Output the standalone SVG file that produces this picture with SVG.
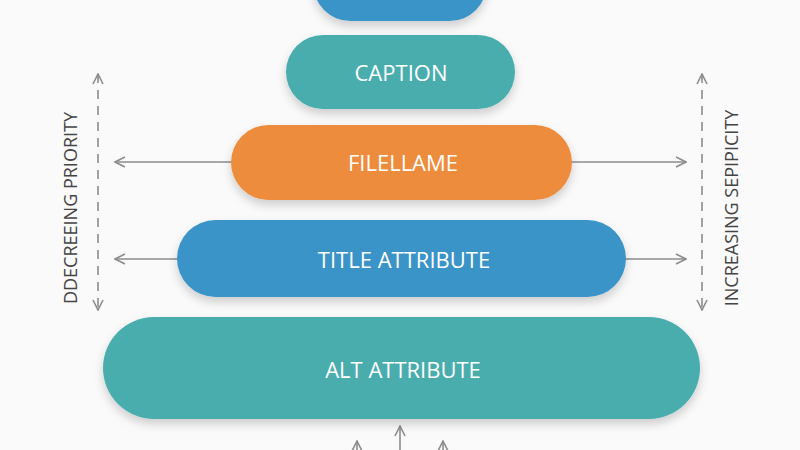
<svg xmlns="http://www.w3.org/2000/svg" width="800" height="450" viewBox="0 0 800 450">
<style>
.lbl{font-family:"Open Sans","Noto Sans","Liberation Sans",sans-serif;font-size:22px;fill:#ffffff;text-anchor:middle;dominant-baseline:central}
.side{font-family:"Open Sans","Noto Sans","Liberation Sans",sans-serif;font-size:18px;fill:#444;text-anchor:middle;dominant-baseline:central}
.blue{fill:#3b94c7}
.teal{fill:#48adae}
.orange{fill:#ee8c3c}
.ln{stroke:#8c8c8c;stroke-width:1.6;fill:none}
.dash{stroke:#8c8c8c;stroke-width:1.6;fill:none;stroke-dasharray:9 7}
</style>
<defs>
<filter id="sh" x="-20%" y="-40%" width="140%" height="190%">
<feDropShadow dx="0" dy="5" stdDeviation="5" flood-color="#000" flood-opacity="0.18"/>
</filter>
<marker id="ah" viewBox="0 0 12 12" refX="11" refY="6" markerWidth="12" markerHeight="12" markerUnits="userSpaceOnUse" orient="auto-start-reverse">
<path d="M1,1 L11,6 L1,11" fill="none" stroke="#8c8c8c" stroke-width="1.6"/>
</marker>
</defs>
<rect width="800" height="450" fill="#fafafa"/>
<g id="connectors">
<line class="dash" x1="98" y1="74" x2="98" y2="310" marker-start="url(#ah)" marker-end="url(#ah)"/>
<line class="dash" x1="702" y1="74" x2="702" y2="310" marker-start="url(#ah)" marker-end="url(#ah)"/>
<line class="ln" x1="232" y1="162" x2="115" y2="162" marker-end="url(#ah)"/>
<line class="ln" x1="178" y1="259" x2="115" y2="259" marker-end="url(#ah)"/>
<line class="ln" x1="571" y1="162" x2="686" y2="162" marker-end="url(#ah)"/>
<line class="ln" x1="625" y1="259" x2="686" y2="259" marker-end="url(#ah)"/>
<line class="ln" x1="400" y1="450" x2="400" y2="426" marker-end="url(#ah)"/>
<line class="ln" x1="357" y1="455" x2="357" y2="441" marker-end="url(#ah)"/>
<line class="ln" x1="443" y1="455" x2="443" y2="441" marker-end="url(#ah)"/>
</g>
<g id="node-top"><rect class="blue" x="313" y="-54" width="174" height="75" rx="37.5" filter="url(#sh)"/></g>
<g id="node-caption"><rect class="teal" x="286" y="35" width="229" height="74" rx="37" filter="url(#sh)"/><text class="lbl" x="401" y="72">CAPTION</text></g>
<g id="node-filename"><rect class="orange" x="231" y="125" width="341" height="75" rx="37.5" filter="url(#sh)"/><text class="lbl" x="403" y="162">FILELLAME</text></g>
<g id="node-title"><rect class="blue" x="177" y="220" width="449" height="77" rx="38.5" filter="url(#sh)"/><text class="lbl" x="404" y="259">TITLE ATTRIBUTE</text></g>
<g id="node-alt"><rect class="teal" x="103" y="317" width="597" height="102" rx="51" filter="url(#sh)"/><text class="lbl" x="403" y="369">ALT ATTRIBUTE</text></g>
<g id="label-left"><text class="side" transform="translate(70,208) rotate(-90)">DDECREEING PRIORITY</text></g>
<g id="label-right"><text class="side" transform="translate(731,208) rotate(-90)">INCREASING SEPIPICITY</text></g>
</svg>
